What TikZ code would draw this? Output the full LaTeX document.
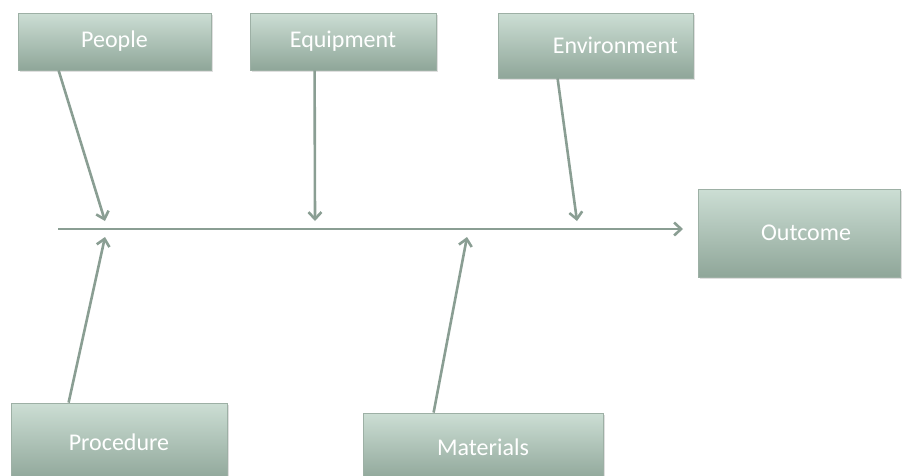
\documentclass[tikz,border=0pt]{standalone}
\usepackage{fontspec}
\setmainfont{Carlito}
\usetikzlibrary{arrows.meta,calc,shadows}
\definecolor{boxtop}{HTML}{CCDED4}
\definecolor{boxbot}{HTML}{8FA699}
\definecolor{boxline}{HTML}{9DB0A5}
\definecolor{arr}{HTML}{8A9E93}
\tikzset{
  cause/.style={draw=boxline, line width=0.8pt, top color=boxtop, bottom color=boxbot,
    text=white, font=\fontsize{24}{28}\selectfont, inner sep=0pt,
    drop shadow={shadow xshift=1.5pt, shadow yshift=-1.5pt, opacity=0.25}},
  bone/.style={draw=arr, line width=2.6pt, -{Straight Barb[length=7pt,width=13pt,line width=2.6pt]}}
}
\begin{document}
\begin{tikzpicture}[x=1pt,y=-1pt]
\useasboundingbox (0,0) rectangle (903,475);
\begin{scope}
\clip (0,0) rectangle (903,475);
\node[cause, minimum width=193pt, minimum height=57pt] (people) at (114.5,41.5) {People};
\node[cause, minimum width=186pt, minimum height=57pt] (equip) at (343,41.5) {Equipment};
\node[cause, minimum width=195pt, minimum height=65pt] (env) at (595.5,45.5) {\hspace*{40pt}Environment};
\node[cause, minimum width=202pt, minimum height=88pt] (out) at (799,233) {\hspace*{14pt}Outcome};
\node[cause, minimum width=216pt, minimum height=78pt] (proc) at (119,442) {Procedure};
\node[cause, minimum width=240pt, minimum height=68pt] (mat) at (483,447) {Materials};
\end{scope}
\coordinate (s0) at (58,229);
\coordinate (s1) at (683,229);
\coordinate (tp) at (105,221);
\coordinate (te) at (315,221);
\coordinate (tv) at (577,221);
\coordinate (tr) at (105,237);
\coordinate (tm) at (467,237);
\draw[bone] (s0) -- (s1);
\draw[bone] ($(people.south west)+(41,0)$) -- (tp);
\draw[bone] ($(equip.south west)+(65,0)$) -- (te);
\draw[bone] ($(env.south west)+(60,0)$) -- (tv);
\draw[bone] ($(proc.north west)+(58,0)$) -- (tr);
\draw[bone] ($(mat.north west)+(71,0)$) -- (tm);
\end{tikzpicture}
\end{document}
